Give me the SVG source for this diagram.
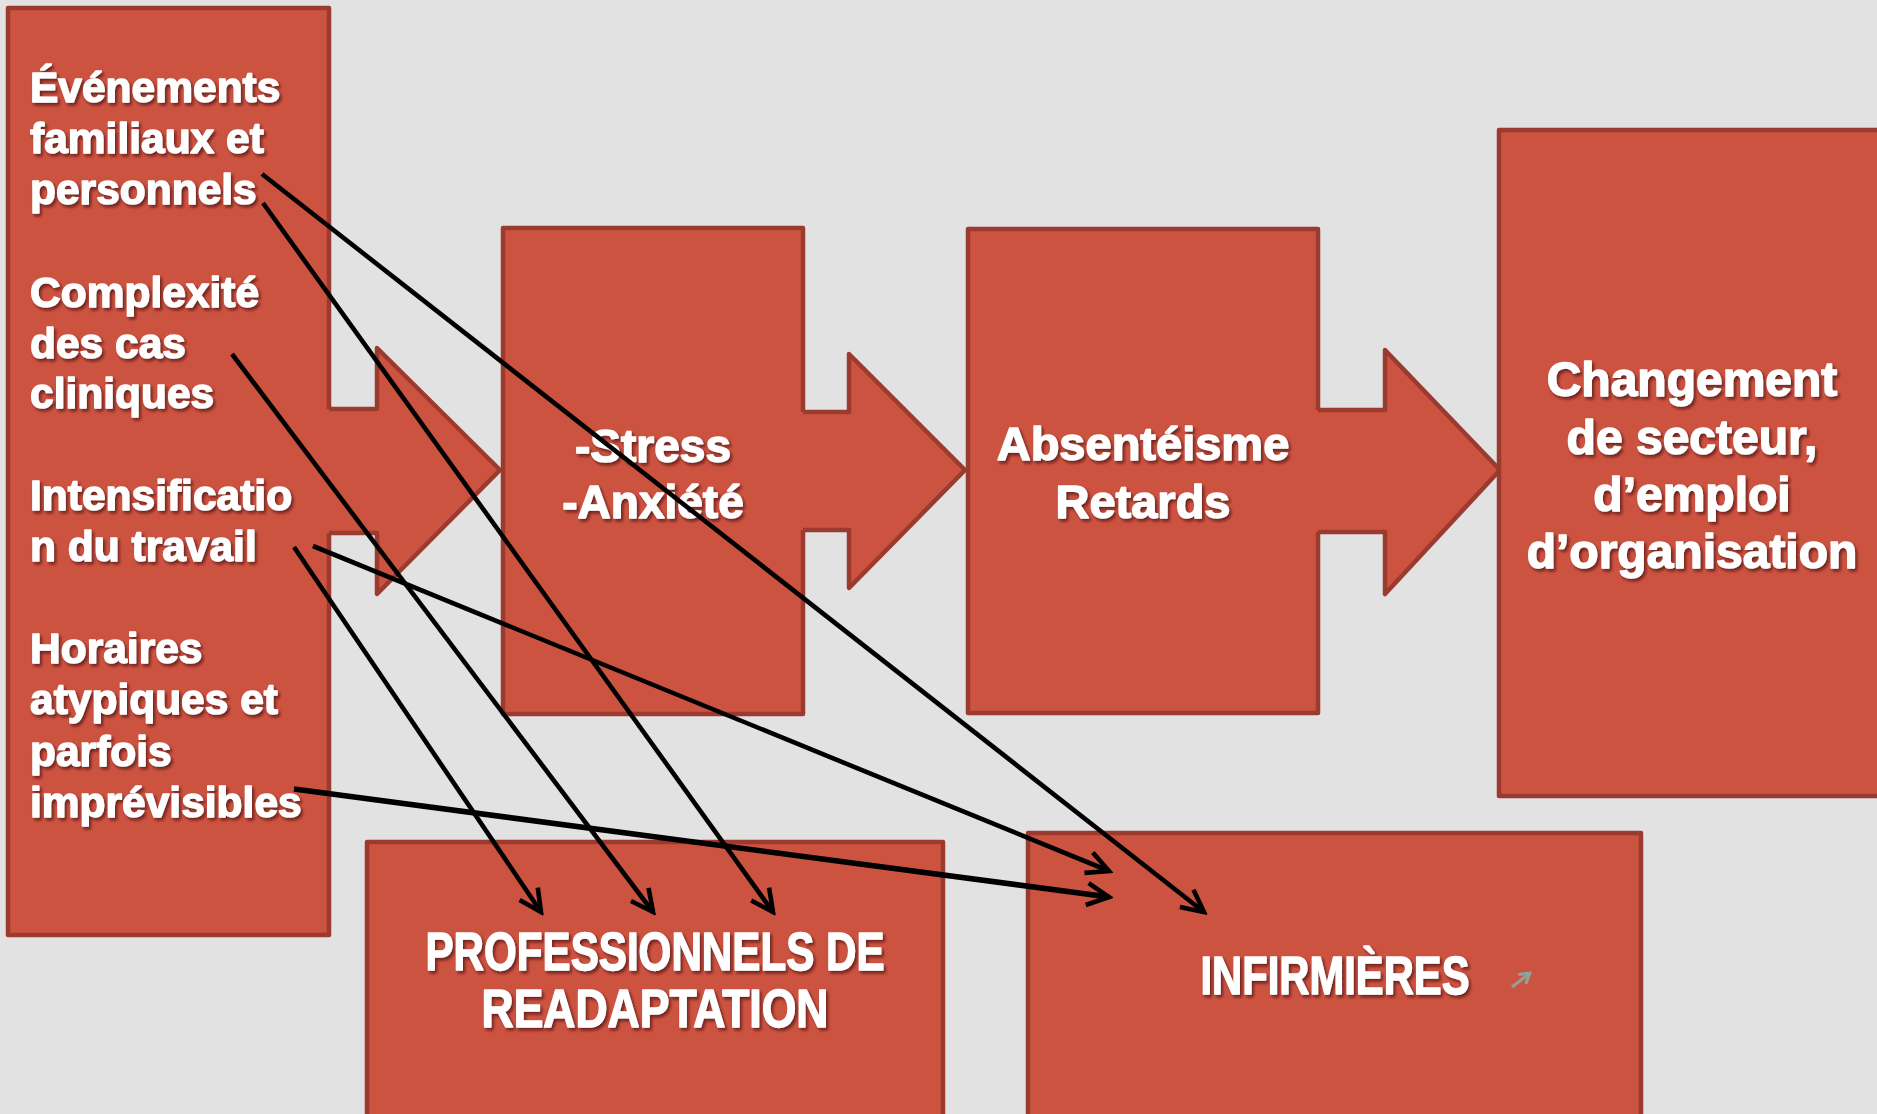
<svg xmlns="http://www.w3.org/2000/svg" width="1877" height="1114" viewBox="0 0 1877 1114">
<style>
.bg{fill:#E2E2E2}
.box{fill:#CD5341;stroke:#9B3A2E;stroke-width:4.5;stroke-linejoin:round}
.af{fill:#CD5341;stroke:none}
.ae{fill:none;stroke:#9B3A2E;stroke-width:4.5;stroke-linejoin:round}
.t{font-family:"Liberation Sans",Arial,sans-serif;font-weight:bold;fill:#FFFFFF;stroke:#FFFFFF;stroke-width:1.4;stroke-linejoin:round;filter:url(#sh)}
.l{font-size:42.5px}
.c{text-anchor:middle}
.n{font-family:"Liberation Sans Narrow","Liberation Sans",Arial,sans-serif;font-size:53px}
.conn line{stroke:#000;stroke-width:4.6;fill:none;marker-end:url(#ah)}
</style>
<defs>
<filter id="sh" x="-10%" y="-20%" width="130%" height="150%">
<feDropShadow dx="2" dy="2.5" stdDeviation="1.6" flood-color="#4a140c" flood-opacity="0.75"/>
</filter>
<marker id="ah" markerUnits="userSpaceOnUse" viewBox="-26 -15 30 30" markerWidth="30" markerHeight="30" refX="0" refY="0" orient="auto">
<path d="M-22,-11 L0,0 L-22,11" fill="none" stroke="#000" stroke-width="4.6" stroke-linejoin="miter"/>
</marker>
<marker id="ahg" markerUnits="userSpaceOnUse" viewBox="-12 -8 14 16" markerWidth="14" markerHeight="16" refX="0" refY="0" orient="auto">
<path d="M-10,-6 L0,0 L-10,6" fill="none" stroke="#8FA39B" stroke-width="3"/>
</marker>
</defs>
<rect class="bg" x="0" y="0" width="1877" height="1114"/>

<g id="node-facteurs">
<rect class="box" x="8" y="8" width="321" height="927"/>
<text class="t l" x="30"><tspan x="30" y="102">Événements</tspan><tspan x="30" y="153">familiaux et</tspan><tspan x="30" y="204">personnels</tspan></text>
<text class="t l" x="30"><tspan x="30" y="307">Complexité</tspan><tspan x="30" y="358">des cas</tspan><tspan x="30" y="408">cliniques</tspan></text>
<text class="t l" x="30"><tspan x="30" y="510">Intensificatio</tspan><tspan x="30" y="561">n du travail</tspan></text>
<text class="t l" x="30"><tspan x="30" y="663">Horaires</tspan><tspan x="30" y="714">atypiques et</tspan><tspan x="30" y="766">parfois</tspan><tspan x="30" y="817">imprévisibles</tspan></text>
</g>

<g id="arrow-1">
<polygon class="af" points="325,409 377,409 377,348 500,470 377,594 377,533 325,533"/>
<polyline class="ae" points="329,409 377,409 377,348 500,470 377,594 377,533 329,533"/>
</g>

<g id="node-stress">
<rect class="box" x="503" y="228" width="300" height="486"/>
<text class="t c" style="font-size:46px" x="653"><tspan x="653" y="462">-Stress</tspan><tspan x="653" y="518">-Anxiété</tspan></text>
</g>

<g id="arrow-2">
<polygon class="af" points="799,412 849,412 849,354 965,470 849,588 849,530 799,530"/>
<polyline class="ae" points="803,412 849,412 849,354 965,470 849,588 849,530 803,530"/>
</g>

<g id="node-absenteisme">
<rect class="box" x="968" y="229" width="350" height="484"/>
<text class="t c" style="font-size:47px" x="1143"><tspan x="1143" y="460">Absentéisme</tspan><tspan x="1143" y="518">Retards</tspan></text>
</g>

<g id="arrow-3">
<polygon class="af" points="1314,410 1385,410 1385,350 1500,470 1385,594 1385,532 1314,532"/>
<polyline class="ae" points="1318,410 1385,410 1385,350 1500,470 1385,594 1385,532 1318,532"/>
</g>

<g id="node-changement">
<rect class="box" x="1499" y="130" width="400" height="666"/>
<text class="t c" style="font-size:48px" x="1692"><tspan x="1692" y="396">Changement</tspan><tspan x="1692" y="454">de secteur,</tspan><tspan x="1692" y="511">d’emploi</tspan><tspan x="1692" y="568">d’organisation</tspan></text>
</g>

<g id="node-professionnels">
<rect class="box" x="367" y="842" width="576" height="290"/>
<text class="t n c" x="655" y="970" textLength="459" lengthAdjust="spacingAndGlyphs">PROFESSIONNELS DE</text>
<text class="t n c" x="655" y="1027" textLength="347" lengthAdjust="spacingAndGlyphs">READAPTATION</text>
</g>

<g id="node-infirmieres">
<rect class="box" x="1028" y="833" width="613" height="300"/>
<text class="t n c" x="1335" y="994" textLength="269" lengthAdjust="spacingAndGlyphs">INFIRMIÈRES</text>
<line x1="1512" y1="987" x2="1530" y2="973" stroke="#8FA39B" stroke-width="3" marker-end="url(#ahg)"/>
</g>

<g id="connectors" class="conn">
<line x1="262" y1="174" x2="1204" y2="912"/>
<line x1="263" y1="203" x2="773" y2="912"/>
<line x1="232" y1="354" x2="653" y2="912"/>
<line x1="313" y1="546" x2="1109" y2="871"/>
<line x1="294" y1="547" x2="541" y2="912"/>
<line x1="294" y1="789" x2="1109" y2="897" style="stroke-width:5.6"/>
</g>
</svg>
